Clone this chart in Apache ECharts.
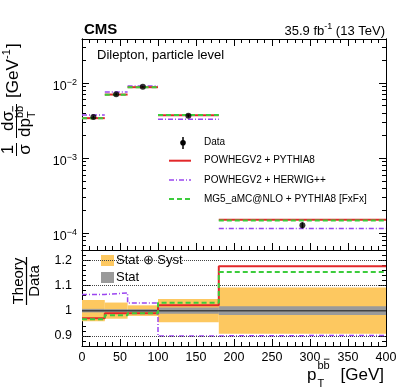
<!DOCTYPE html>
<html><head><meta charset="utf-8">
<script src="https://cdn.jsdelivr.net/npm/echarts@6/dist/echarts.min.js"></script>
<style>html,body{margin:0;padding:0;background:#fff}#c{width:407px;height:391px}</style>
</head><body><div id="c"></div>
<script>
// ---------------- data ----------------
const binEdges = [0, 30, 60, 100, 180, 400];
const dataXs = [3.52e-3, 7.1e-3, 8.9e-3, 3.66e-3, 1.28e-4];
const relTotUnc = [0.042, 0.032, 0.021, 0.046, 0.092];
const relStatUnc = [0.007, 0.006, 0.006, 0.012, 0.017];
const xsPowPy8 = [3.41e-3, 7.03e-3, 8.81e-3, 3.74e-3, 1.51e-4];
const xsPowHw = [3.75e-3, 7.6e-3, 9.17e-3, 3.29e-3, 1.155e-4];
const xsMg5 = [3.40e-3, 6.97e-3, 8.81e-3, 3.77e-3, 1.48e-4];
const ratioPowPy8 = [0.97, 0.99, 0.99, 1.021, 1.176];
const ratioPowHw = [1.064, 1.07, 1.03, 0.90, 0.902];
const ratioMg5 = [0.966, 0.982, 0.99, 1.031, 1.153];
const logMajorTicks = [1e-4, 1e-3, 1e-2];
const ratioMajorTicks = [0.9, 1.0, 1.1, 1.2];
const ratioGridLines = [0.9, 1.1, 1.2];
const legendNames = ['Data', 'POWHEGV2 + PYTHIA8', 'POWHEGV2 + HERWIG++', 'MG5_aMC@NLO + PYTHIA8 [FxFx]'];

// ---------------- style / layout ----------------
const FONT = "'Liberation Sans', Arial, Helvetica, sans-serif";
const C_RED = '#e2282a', C_PUR = '#9b45f0', C_GRN = '#3ccc3c', C_ORG = '#fdc860', C_GRY = '#9a9a9a';
const LOG_MIN = 5.99e-5, LOG_MAX = 0.0386, R_MIN = 0.86, R_MAX = 1.24;
const logMinorTicks = [];
for (let n = -5; n <= -2; n++) for (let k = 2; k <= 9; k++) logMinorTicks.push(k * Math.pow(10, n));
const ratioMinorTicks = [];
for (let i = 0; i <= 19; i++) ratioMinorTicks.push(Math.round((0.86 + 0.02 * i) * 100) / 100);

const chart = echarts.init(document.getElementById('c'), null, {renderer: 'canvas'});

const blk = {color: '#000', width: 1};
function xAx(grid, pos, labels, line, ticks) {
  return {
    gridIndex: grid, type: 'value', min: 0, max: 400, interval: 50, position: pos,
    axisLine: {show: line !== false, onZero: false, lineStyle: blk},
    axisTick: {show: ticks !== false, inside: true, length: 7, lineStyle: blk},
    minorTick: {show: ticks !== false, splitNumber: 5, length: 4, lineStyle: blk},
    axisLabel: {show: !!labels, margin: 5, color: '#000', fontSize: 12.5, fontFamily: FONT},
    splitLine: {show: false}
  };
}
function logAx(pos, ticks, len, labels) {
  return {
    gridIndex: 0, type: 'log', logBase: 10, min: LOG_MIN, max: LOG_MAX, position: pos,
    axisLine: {show: true, onZero: false, lineStyle: blk},
    axisTick: {show: true, inside: true, length: len, customValues: ticks, lineStyle: blk},
    axisLabel: labels ? {
      show: true, customValues: ticks, margin: 5, padding: [5, 0, 0, 0],
      formatter: v => '{b|10}{s|\u2212' + Math.abs(Math.round(Math.log10(v))) + '}',
      rich: {
        b: {fontSize: 12.5, lineHeight: 15, verticalAlign: 'bottom', color: '#000', fontFamily: FONT},
        s: {fontSize: 9, lineHeight: 9, verticalAlign: 'top', color: '#000', fontFamily: FONT}
      }
    } : {show: false},
    splitLine: {show: false}, minorTick: {show: false}
  };
}
function ratioAx(pos, ticks, len, labels) {
  return {
    gridIndex: 1, type: 'value', min: R_MIN, max: R_MAX, position: pos,
    axisLine: {show: true, onZero: false, lineStyle: blk},
    axisTick: {show: true, inside: true, length: len, customValues: ticks, lineStyle: blk},
    axisLabel: labels ? {show: true, customValues: ticks, margin: 10, color: '#000', fontSize: 12.5,
      fontFamily: FONT, formatter: v => String(+v.toFixed(2))} : {show: false},
    splitLine: {show: false}, minorTick: {show: false}
  };
}

function segSeries(vals, color, width, dash, z) {
  return {
    type: 'custom', xAxisIndex: 0, yAxisIndex: 0, z, silent: true, clip: true,
    data: vals.map((v, i) => [binEdges[i], binEdges[i + 1], v]),
    encode: {x: [0, 1], y: 2},
    renderItem(params, api) {
      const a = api.coord([api.value(0), api.value(2)]);
      const b = api.coord([api.value(1), api.value(2)]);
      return {type: 'line', shape: {x1: a[0], y1: a[1], x2: b[0], y2: b[1]},
        style: {stroke: color, lineWidth: width, lineDash: dash || null, fill: null}};
    }
  };
}
function bandSeries(rel, color, z) {
  return {
    type: 'custom', xAxisIndex: 2, yAxisIndex: 4, z, silent: true, clip: true,
    data: rel.map((u, i) => [binEdges[i], binEdges[i + 1], 1 - u, 1 + u]),
    encode: {x: [0, 1], y: [2, 3]},
    renderItem(params, api) {
      const p0 = api.coord([api.value(0), api.value(3)]);
      const p1 = api.coord([api.value(1), api.value(2)]);
      return {type: 'rect', shape: {x: p0[0], y: p0[1], width: p1[0] - p0[0], height: p1[1] - p0[1]},
        style: {fill: color}};
    }
  };
}
function stepSeries(r, color, width, type, z) {
  return {
    type: 'line', xAxisIndex: 2, yAxisIndex: 4, z, step: 'end', symbol: 'none', silent: true,
    data: r.map((v, i) => [binEdges[i], v]).concat([[binEdges[binEdges.length - 1], r[r.length - 1]]]),
    lineStyle: {color, width, type}
  };
}
const centers = dataXs.map((v, i) => (binEdges[i] + binEdges[i + 1]) / 2);

function txt(x, y, text, size, opts) {
  return Object.assign({type: 'text', x, y, silent: true, style: Object.assign({
    text, fontSize: size, fontFamily: FONT, fill: '#000',
    textAlign: 'left', align: 'left', textVerticalAlign: 'middle', verticalAlign: 'middle'
  }, (opts && opts.style) || {})}, opts && opts.el || {});
}
function ln(x1, y1, x2, y2, color, w, dash) {
  return {type: 'line', silent: true, shape: {x1, y1, x2, y2}, style: {stroke: color, lineWidth: w, lineDash: dash || null}};
}
// "b b-bar" superscript drawn as text plus an overline on the second b
function bbbar(x, y, size) {
  const w = 0.556 * size;
  return [txt(x, y, 'bb', size), ln(x + w + 0.3, y - 0.62 * size, x + 2 * w - 0.3, y - 0.62 * size, '#000', 0.9)];
}

const graphics = [
  // header
  txt(84, 30, 'CMS', 15, {style: {fontWeight: 'bold'}}),
  {type: 'text', x: 385, y: 30, silent: true, style: {
    text: '{n|35.9 fb}{s|-1}{n| (13 TeV)}', fontFamily: FONT, fill: '#000',
    textAlign: 'right', align: 'right', textVerticalAlign: 'middle', verticalAlign: 'middle',
    rich: {n: {fontSize: 13, lineHeight: 16, verticalAlign: 'bottom', fontFamily: FONT, fill: '#000'},
           s: {fontSize: 9, lineHeight: 9, verticalAlign: 'top', fontFamily: FONT, fill: '#000'}}}},
  txt(97, 55, 'Dilepton, particle level', 13),
  // top legend
  ln(183, 137, 183, 149, '#000', 1.5),
  {type: 'circle', silent: true, shape: {cx: 183, cy: 142.7, r: 2.8}, style: {fill: '#000'}},
  txt(204, 142.7, legendNames[0], 10),
  ln(169, 160.7, 191, 160.7, C_RED, 2),
  txt(204, 160.7, legendNames[1], 10),
  ln(169, 180, 191, 180, C_PUR, 1.5, [5, 2, 1, 2]),
  txt(204, 180, legendNames[2], 10),
  ln(169, 199, 193, 199, C_GRN, 2, [5, 3]),
  txt(204, 199, legendNames[3], 10),
  // ratio legend
  {type: 'rect', silent: true, shape: {x: 101, y: 255, width: 13, height: 11}, style: {fill: C_ORG}},
  txt(116, 260.5, 'Stat \u2295 Syst', 13),
  {type: 'rect', silent: true, shape: {x: 101, y: 272, width: 13, height: 11}, style: {fill: C_GRY}},
  txt(116, 277.5, 'Stat', 13),
  // x-axis title
  txt(307, 375, 'p', 17),
  ...bbbar(317.5, 366, 11),
  txt(317.5, 384, 'T', 11),
  txt(384, 375, '[GeV]', 17, {style: {textAlign: 'right', align: 'right'}}),
  // y-axis title (top panel), rotated group
  {type: 'group', x: 16.5, y: 155, rotation: Math.PI / 2, silent: true, children: [
    txt(5.5, -8, '1', 17, {style: {textAlign: 'center', align: 'center'}}),
    ln(-1, 0, 12, 0, '#000', 1),
    txt(5.5, 9, '\u03c3', 17, {style: {textAlign: 'center', align: 'center'}}),
    txt(34, -8, 'd\u03c3', 17, {style: {textAlign: 'center', align: 'center'}}),
    ln(17, 0, 51, 0, '#000', 1),
    txt(18, 9, 'dp', 17),
    ...bbbar(37, 3, 11),
    txt(37, 15, 'T', 11),
    txt(57, -3, '[GeV', 17),
    txt(96, -10, '-1', 11),
    txt(107, -3, ']', 17)
  ]},
  // ratio y title
  {type: 'group', x: 26.5, y: 281, rotation: Math.PI / 2, silent: true, children: [
    txt(0, -7.5, 'Theory', 15, {style: {textAlign: 'center', align: 'center'}}),
    ln(-24, 0, 24, 0, '#000', 1.2),
    txt(0, 8, 'Data', 15, {style: {textAlign: 'center', align: 'center'}})
  ]}
];

const option = {
  animation: false,
  backgroundColor: '#fff',
  textStyle: {fontFamily: FONT},
  grid: [
    {left: 82, right: 21, top: 39, height: 211, containLabel: false, outerBoundsMode: 'none'},
    {left: 82, right: 21, top: 250, height: 96, containLabel: false, outerBoundsMode: 'none'}
  ],
  xAxis: [
    xAx(0, 'bottom', false),
    xAx(0, 'top', false),
    xAx(1, 'bottom', true),
    xAx(1, 'top', false, true, false)
  ],
  yAxis: [
    logAx('left', logMajorTicks, 7, true),
    logAx('left', logMinorTicks, 4, false),
    logAx('right', logMajorTicks, 7, false),
    logAx('right', logMinorTicks, 4, false),
    ratioAx('left', ratioMajorTicks, 8, true),
    ratioAx('left', ratioMinorTicks, 4, false),
    ratioAx('right', ratioMajorTicks, 8, false),
    ratioAx('right', ratioMinorTicks, 4, false)
  ],
  series: [
    segSeries(xsPowHw, C_PUR, 1.5, [5, 2, 1, 2], 2),
    segSeries(xsPowPy8, C_RED, 2, null, 3),
    segSeries(xsMg5, C_GRN, 2, [5, 3], 4),
    {
      type: 'custom', xAxisIndex: 0, yAxisIndex: 0, z: 5, silent: true, clip: true,
      data: dataXs.map((v, i) => [centers[i], v * (1 - relTotUnc[i]), v * (1 + relTotUnc[i])]),
      encode: {x: 0, y: [1, 2]},
      renderItem(params, api) {
        const a = api.coord([api.value(0), api.value(1)]);
        const b = api.coord([api.value(0), api.value(2)]);
        return {type: 'line', shape: {x1: a[0], y1: a[1], x2: b[0], y2: b[1]}, style: {stroke: '#000', lineWidth: 1.5}};
      }
    },
    {type: 'scatter', xAxisIndex: 0, yAxisIndex: 0, z: 6, silent: true, symbol: 'circle', symbolSize: 6,
      itemStyle: {color: '#000'}, data: dataXs.map((v, i) => [centers[i], v])},
    bandSeries(relTotUnc, C_ORG, 1),
    bandSeries(relStatUnc, C_GRY, 2),
    {type: 'line', xAxisIndex: 2, yAxisIndex: 4, z: 3, symbol: 'none', silent: true,
      data: [[0, 1], [400, 1]], lineStyle: {color: '#444', width: 1.5},
      markLine: {silent: true, symbol: ['none', 'none'], label: {show: false},
        lineStyle: {type: 'dotted', color: '#444', width: 1},
        data: ratioGridLines.map(v => ({yAxis: v}))}},
    stepSeries(ratioPowHw, C_PUR, 1.5, [5, 2, 1, 2], 4),
    stepSeries(ratioPowPy8, C_RED, 2, 'solid', 5),
    stepSeries(ratioMg5, C_GRN, 2, [5, 3], 6)
  ],
  graphic: graphics
};
chart.setOption(option);
</script>
</body></html>
